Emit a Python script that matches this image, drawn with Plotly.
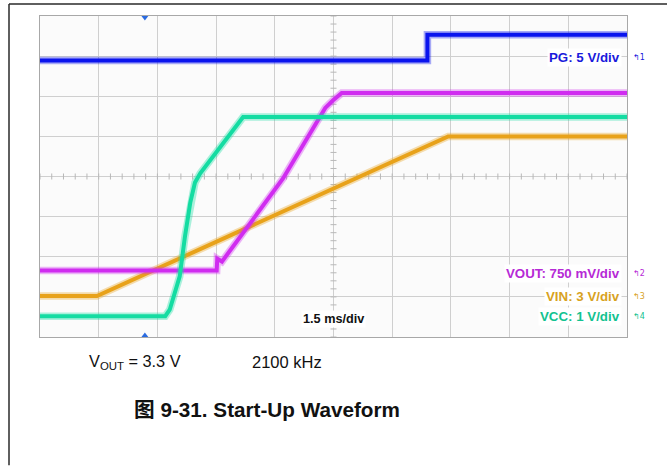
import plotly.graph_objects as go

# ---------------- data (time in ms, level in screen divisions) ----------------
pg_t = [0, 9.9, 9.9, 15]
pg_y = [6.89, 6.89, 7.53, 7.53]

vout_t = [0, 4.515, 4.53, 4.65, 6.21, 7.02, 7.29, 7.49, 7.71, 15]
vout_y = [1.66, 1.66, 1.95, 1.88, 3.95, 5.27, 5.71, 5.90, 6.08, 6.08]

vin_t = [0, 1.455, 10.43, 15]
vin_y = [1.02, 1.02, 5.0, 5.0]

vcc_t = [0, 3.2, 3.315, 3.57, 3.705, 3.84, 3.96, 4.095, 5.19, 15]
vcc_y = [0.52, 0.52, 0.68, 1.51, 2.51, 3.35, 3.85, 4.08, 5.48, 5.48]

labels = ["PG: 5 V/div", "VOUT: 750 mV/div", "VIN: 3 V/div", "VCC: 1 V/div"]
label_y = [6.96, 1.58, 1.02, 0.52]
label_colors = ["#1a1adc", "#b62ad6", "#d8a21e", "#12c290"]
marker_nums = ["1", "2", "3", "4"]

trigger_t = [2.68]
time_div_ms = 1.5
n_xdiv = 10
n_ydiv = 8

# ---------------- figure ----------------
W, H = 667, 466
L, R, T, B = 40, 40, 16, 128.5
pw, ph = W - L - R, H - T - B

def px2paper(px, py):
    return (px - L) / pw, (H - B - py) / ph

fig = go.Figure()

# center-line minor ticks
tx, ty = [], []
xmax = time_div_ms * n_xdiv
k = 0
while k <= n_xdiv * 5:
    x = k * time_div_ms / 5
    tx += [x, x, None]
    ty += [n_ydiv / 2 - 0.075, n_ydiv / 2 + 0.075, None]
    k += 1
k = 0
while k <= n_ydiv * 5:
    y = k / 5
    tx += [xmax / 2 - 0.077, xmax / 2 + 0.077, None]
    ty += [y, y, None]
    k += 1
fig.add_trace(go.Scatter(x=tx, y=ty, mode="lines", line=dict(color="#b8b8b8", width=1),
                         hoverinfo="skip", showlegend=False))

series = [
    (vin_t, vin_y, "#e8a21a"),
    (vout_t, vout_y, "#d02cf0"),
    (vcc_t, vcc_y, "#14dca2"),
    (pg_t, pg_y, "#0a14ee"),
]
for t, y, c in series:
    fig.add_trace(go.Scatter(x=t, y=y, mode="lines", line=dict(color=c, width=7.5),
                             opacity=0.35, hoverinfo="skip", showlegend=False))
    fig.add_trace(go.Scatter(x=t, y=y, mode="lines", line=dict(color=c, width=4),
                             hoverinfo="skip", showlegend=False))

# trigger markers
fig.add_trace(go.Scatter(x=trigger_t * 2, y=[n_ydiv - 0.04, 0.04], mode="markers",
                         marker=dict(symbol=["triangle-down", "triangle-up"], size=6,
                                     color="#2a6be0"),
                         cliponaxis=False, hoverinfo="skip", showlegend=False))

ann = []
mx, _ = px2paper(631, 0)
for txt, yv, col, num in zip(labels, label_y, label_colors, marker_nums):
    ann.append(dict(x=14.87, y=yv, xref="x", yref="y", text="<b>" + txt + "</b>",
                    showarrow=False, xanchor="right", yanchor="middle",
                    font=dict(family="Arial, Liberation Sans", size=13.3, color=col),
                    bgcolor="#ffffff", borderpad=1))
    ann.append(dict(x=mx, y=yv / n_ydiv, xref="paper", yref="paper", text="↰" + num,
                    showarrow=False, xanchor="left", yanchor="middle",
                    font=dict(family="DejaVu Sans", size=8, color=col)))

ann.append(dict(x=7.49, y=0.46, xref="x", yref="y", text="<b>1.5 ms/div</b>",
                showarrow=False, xanchor="center", yanchor="middle",
                font=dict(family="Arial, Liberation Sans", size=12.7, color="#111111"),
                bgcolor="#ffffff", borderpad=1))

x1, y1 = px2paper(87, 363)
ann.append(dict(x=x1, y=y1, xref="paper", yref="paper", text="V<sub>OUT</sub> = 3.3 V",
                showarrow=False, xanchor="left", yanchor="middle",
                font=dict(family="Arial, Liberation Sans", size=16.3, color="#111111")))
x2, _ = px2paper(250, 363)
ann.append(dict(x=x2, y=y1, xref="paper", yref="paper", text="2100 kHz",
                showarrow=False, xanchor="left", yanchor="middle",
                font=dict(family="Arial, Liberation Sans", size=16.5, color="#111111")))
x3, y3 = px2paper(267, 410)
ann.append(dict(x=x3, y=y3, xref="paper", yref="paper",
                text="<b>图 9-31. Start-Up Waveform</b>",
                showarrow=False, xanchor="center", yanchor="middle",
                font=dict(family="Arial, Liberation Sans, Noto Sans CJK SC", size=20.7,
                          color="#111111")))

# page frame lines (top and left)
fx0, fy0 = px2paper(9, 4)
fx1, _ = px2paper(667, 4)
_, fy1 = px2paper(9, 466)
shapes = [
    dict(type="line", xref="paper", yref="paper", x0=fx0, y0=fy0, x1=fx1, y1=fy0,
         line=dict(color="#2a2a2a", width=1.5)),
    dict(type="line", xref="paper", yref="paper", x0=fx0, y0=fy0, x1=fx0, y1=fy1,
         line=dict(color="#2a2a2a", width=1.5)),
]

fig.update_layout(
    width=W, height=H,
    margin=dict(l=L, r=R, t=T, b=B),
    paper_bgcolor="#ffffff", plot_bgcolor="#fbfbfb",
    annotations=ann, shapes=shapes, showlegend=False,
    xaxis=dict(range=[0, xmax], dtick=time_div_ms, showticklabels=False, ticks="",
               showgrid=True, gridcolor="#cfcfcf", gridwidth=1, zeroline=False,
               showline=True, linecolor="#a8a8a8", linewidth=1, mirror=True, fixedrange=True),
    yaxis=dict(range=[0, n_ydiv], dtick=1, showticklabels=False, ticks="",
               showgrid=True, gridcolor="#cfcfcf", gridwidth=1, zeroline=False,
               showline=True, linecolor="#a8a8a8", linewidth=1, mirror=True, fixedrange=True),
)

fig.write_html("out.html", config={"displayModeBar": False},
               post_script="document.body.style.margin='0';document.body.style.overflow='hidden';")
